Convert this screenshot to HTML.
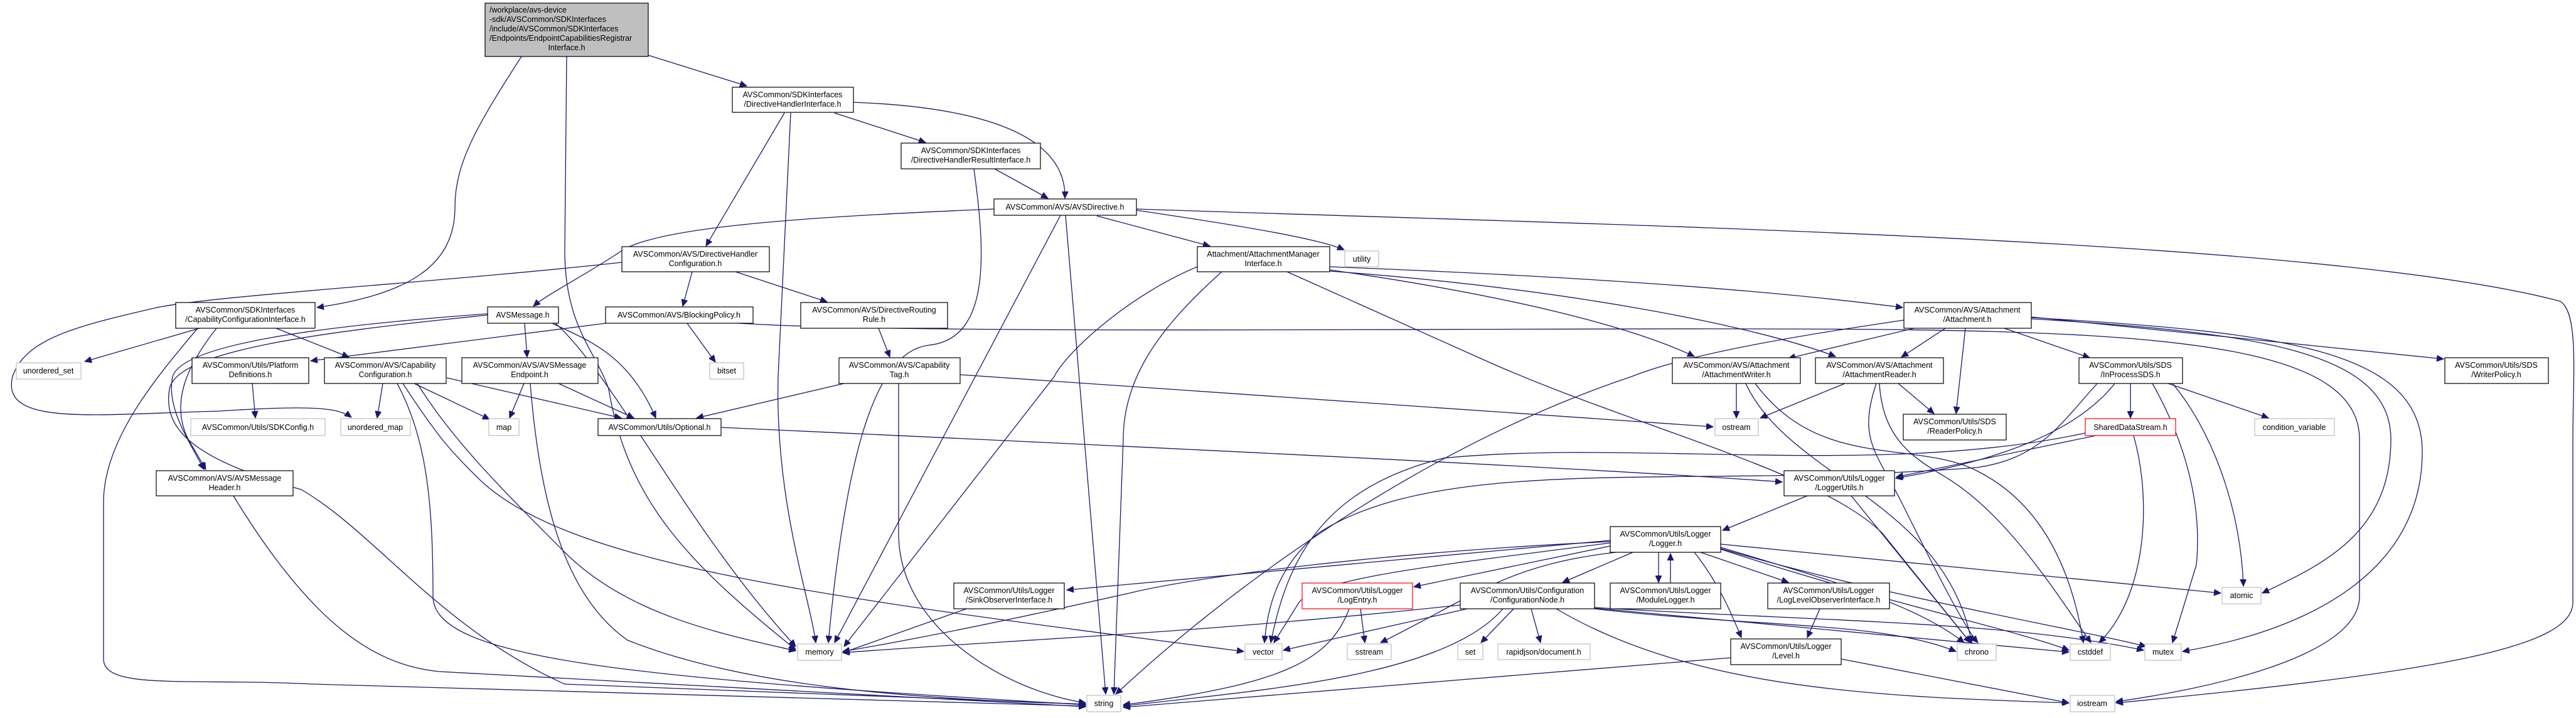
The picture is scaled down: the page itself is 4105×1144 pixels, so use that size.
<!DOCTYPE html>
<html><head><meta charset="utf-8"><style>
html,body{margin:0;padding:0;background:#fff}
svg text{font-family:"Liberation Sans",sans-serif;font-size:12.5px;fill:#000}
.e{fill:none;stroke:#191970;stroke-width:1.3;marker-end:url(#a)}
.n{fill:#fff;stroke:#000;stroke-width:1.2}
.g{fill:#fff;stroke:#bfbfbf;stroke-width:1.2}
.r{fill:#fff;stroke:#ff0000;stroke-width:1.2}
</style></head><body>
<svg width="4105" height="1139" viewBox="0 0 4105 1139" xmlns="http://www.w3.org/2000/svg">
<defs><marker id="a" markerUnits="userSpaceOnUse" markerWidth="12" markerHeight="10" refX="11" refY="5" orient="auto"><path d="M0,0 L11,5 L0,10 z" fill="#191970" stroke="#191970"/></marker></defs>
<g>
<path class="e" d="M831,90 C760,200 725,260 725,330 C725,430 640,470 505,490"/>
<path class="e" d="M903,90 L900,400 C900,520 950,560 970,620 C1000,800 1100,900 1268,1035"/>
<path class="e" d="M1033,88 L1190,137"/>
<path class="e" d="M1250,180 L1125,392"/>
<path class="e" d="M1330,180 L1475,227"/>
<path class="e" d="M1360,163 C1550,170 1700,210 1697,316"/>
<path class="e" d="M1260,180 L1240,600 C1235,800 1290,950 1300,1024"/>
<path class="e" d="M1585,269 L1670,316"/>
<path class="e" d="M1552,269 C1570,400 1580,540 1480,550 C1400,560 1350,700 1320,1024"/>
<path class="e" d="M1584,333 C1300,345 1050,360 990,400 C930,440 870,470 850,488"/>
<path class="e" d="M1748,344 L1928,392"/>
<path class="e" d="M1811,335 C1980,360 2100,380 2142,398"/>
<path class="e" d="M1811,333 C2600,360 3700,380 4080,480 C4110,500 4100,600 4100,700 L4100,960 C4100,1030 3900,1070 3372,1120"/>
<path class="e" d="M1690,343 L1330,1024"/>
<path class="e" d="M1698,343 L1762,1106"/>
<path class="e" d="M991,418 C700,450 350,470 250,490 C120,520 40,540 20,600 C0,680 150,660 350,655 C500,645 540,650 560,665"/>
<path class="e" d="M1103,433 L1088,488"/>
<path class="e" d="M1172,433 L1318,481"/>
<path class="e" d="M318,523 L135,576"/>
<path class="e" d="M440,523 L556,569"/>
<path class="e" d="M345,523 C300,580 270,640 300,700 L328,748"/>
<path class="e" d="M315,523 C250,600 165,700 165,800 L165,1050 C165,1100 300,1080 500,1090 L1730,1125"/>
<path class="e" d="M777,500 C500,520 290,550 275,600 C265,650 300,700 325,748"/>
<path class="e" d="M777,502 C500,530 280,560 270,620 C260,680 300,730 480,780 C600,850 700,1000 900,1090 L1730,1122"/>
<path class="e" d="M836,515 L840,569"/>
<path class="e" d="M880,515 C930,540 1000,560 1045,666"/>
<path class="e" d="M885,515 C980,600 1100,850 1268,1030"/>
<path class="e" d="M1095,515 L1140,577"/>
<path class="e" d="M966,515 L495,575"/>
<path class="e" d="M1176,515 C1500,535 2500,520 3000,525 C3500,530 3760,560 3760,700 L3760,950 C3760,1050 3500,1100 3372,1118"/>
<path class="e" d="M3237,508 C3600,530 3810,560 3810,700 C3810,850 3700,900 3605,945"/>
<path class="e" d="M3237,506 C3650,530 3860,560 3860,720 C3860,900 3700,1000 3478,1038"/>
<path class="e" d="M3237,505 L3894,572"/>
<path class="e" d="M1400,523 L1418,569"/>
<path class="e" d="M1345,611 L1110,666"/>
<path class="e" d="M1432,611 L1432,850 C1432,1000 1600,1100 1730,1120"/>
<path class="e" d="M1530,597 L2730,680"/>
<path class="e" d="M402,611 L407,666"/>
<path class="e" d="M610,611 L601,666"/>
<path class="e" d="M660,611 L780,668"/>
<path class="e" d="M712,602 L990,666"/>
<path class="e" d="M633,611 C680,700 690,800 690,950 C690,1050 1000,1080 1730,1123"/>
<path class="e" d="M642,611 C700,700 720,720 760,760 C900,900 1300,950 1982,1038"/>
<path class="e" d="M665,611 C720,700 800,780 900,880 C1000,980 1150,1010 1268,1037"/>
<path class="e" d="M835,611 L812,666"/>
<path class="e" d="M890,611 L1010,666"/>
<path class="e" d="M845,611 C860,800 900,950 1000,1020 C1200,1100 1500,1115 1730,1122"/>
<path class="e" d="M1149,681 C2000,720 2600,750 2840,768"/>
<path class="e" d="M372,790 C500,1000 600,1060 700,1070 L1730,1126"/>
<path class="e" d="M2119,425 C2500,440 2800,460 3032,490"/>
<path class="e" d="M2119,430 C2400,470 2600,520 2700,568"/>
<path class="e" d="M2119,432 C2500,460 2800,520 2925,568"/>
<path class="e" d="M1908,425 C1800,470 1700,560 1680,600 L1345,1030"/>
<path class="e" d="M1947,433 C1850,520 1790,600 1790,700 L1775,1106"/>
<path class="e" d="M2051,433 L2357,570 C2600,680 2900,750 3000,850 C3080,950 3120,1000 3140,1024"/>
<path class="e" d="M3050,523 L2850,571"/>
<path class="e" d="M3100,523 L3030,569"/>
<path class="e" d="M3194,523 L3330,570"/>
<path class="e" d="M3132,523 L3117,659"/>
<path class="e" d="M3034,510 C2900,530 2700,560 2600,600 C2300,700 2000,900 1778,1106"/>
<path class="e" d="M2767,611 L2767,666"/>
<path class="e" d="M2782,611 C2850,760 3100,800 3142,1024"/>
<path class="e" d="M2797,611 C2900,750 3050,700 3150,750 C3250,800 3300,900 3320,1024"/>
<path class="e" d="M2940,611 L2805,666"/>
<path class="e" d="M3025,611 L3082,659"/>
<path class="e" d="M2990,611 C2960,700 2990,720 3030,800 C3080,900 3130,1000 3152,1024"/>
<path class="e" d="M2995,611 C3000,700 3050,730 3100,760 C3200,820 3280,950 3332,1024"/>
<path class="e" d="M3395,611 L3395,666"/>
<path class="e" d="M3455,611 L3615,666"/>
<path class="e" d="M3462,611 C3520,680 3570,800 3575,934"/>
<path class="e" d="M3430,611 C3480,700 3510,800 3500,900 L3462,1024"/>
<path class="e" d="M3342,611 C3280,680 3250,730 3150,745 C2700,780 2300,720 2100,850 C2040,900 2020,960 2015,1024"/>
<path class="e" d="M3370,611 C3300,700 3150,740 3021,762"/>
<path class="e" d="M3400,694 C3430,800 3420,950 3345,1024"/>
<path class="e" d="M3340,694 L3022,760"/>
<path class="e" d="M3323,690 C3000,760 2600,700 2300,730 C2100,780 2050,900 2025,1024"/>
<path class="e" d="M2880,790 L2745,845"/>
<path class="e" d="M2950,790 L3140,1024"/>
<path class="e" d="M2566,861 L1700,940"/>
<path class="e" d="M2566,870 L2253,935"/>
<path class="e" d="M2602,880 L2490,928"/>
<path class="e" d="M2643,880 L2643,928"/>
<path class="e" d="M2662,929 L2662,882"/>
<path class="e" d="M2710,880 L2850,928"/>
<path class="e" d="M2700,880 C2740,930 2760,980 2775,1016"/>
<path class="e" d="M2742,867 L3539,945"/>
<path class="e" d="M2742,872 C2900,920 3050,960 3130,1024"/>
<path class="e" d="M2742,874 C3000,950 3300,1000 3420,1030"/>
<path class="e" d="M2742,875 C3000,960 3200,1000 3297,1036"/>
<path class="e" d="M2566,865 C2300,900 2100,920 2070,960 L2030,1024"/>
<path class="e" d="M2575,880 C2400,900 2350,950 2200,1024"/>
<path class="e" d="M2566,863 C2200,880 1900,920 1800,945 C1600,990 1450,1020 1343,1038"/>
<path class="e" d="M2150,970 C2120,1050 2050,1090 1790,1123"/>
<path class="e" d="M2168,970 L2175,1024"/>
<path class="e" d="M2338,970 L2045,1036"/>
<path class="e" d="M2412,970 L2360,1024"/>
<path class="e" d="M2440,970 L2455,1024"/>
<path class="e" d="M2395,970 C2300,1080 2000,1100 1790,1125"/>
<path class="e" d="M2327,964 C1900,1010 1600,1020 1343,1040"/>
<path class="e" d="M2541,970 C2800,1000 3000,990 3117,1038"/>
<path class="e" d="M2541,968 C2900,990 3200,990 3416,1036"/>
<path class="e" d="M2541,969 L3297,1039"/>
<path class="e" d="M2480,970 C2700,1100 3000,1110 3297,1120"/>
<path class="e" d="M1540,970 L1343,1040"/>
<path class="e" d="M2900,970 L2880,1016"/>
<path class="e" d="M2758,1048 L1790,1127"/>
<path class="e" d="M2934,1050 L3297,1120"/>
</g>
<g>
<rect x="773" y="5" width="260" height="85" fill="#bfbfbf" stroke="#000" stroke-width="1.2"/>
<text x="780" y="20">/workplace/avs-device</text>
<text x="780" y="35">-sdk/AVSCommon/SDKInterfaces</text>
<text x="780" y="50">/include/AVSCommon/SDKInterfaces</text>
<text x="780" y="65">/Endpoints/EndpointCapabilitiesRegistrar</text>
<text x="903" y="80" text-anchor="middle">Interface.h</text>
</g>
<g text-anchor="middle">
<rect class="n" x="1167" y="139" width="193" height="40"/><text x="1263" y="155">AVSCommon/SDKInterfaces</text><text x="1263" y="170">/DirectiveHandlerInterface.h</text>
<rect class="n" x="1436" y="228" width="222" height="41"/><text x="1547" y="244">AVSCommon/SDKInterfaces</text><text x="1547" y="259">/DirectiveHandlerResultInterface.h</text>
<rect class="n" x="1584" y="317" width="227" height="26"/><text x="1697" y="334">AVSCommon/AVS/AVSDirective.h</text>
<rect class="n" x="991" y="393" width="235" height="40"/><text x="1108" y="409">AVSCommon/AVS/DirectiveHandler</text><text x="1108" y="424">Configuration.h</text>
<rect class="n" x="1908" y="393" width="211" height="40"/><text x="2013" y="409">Attachment/AttachmentManager</text><text x="2013" y="424">Interface.h</text>
<rect class="g" x="2143" y="400" width="54" height="25"/><text x="2170" y="417">utility</text>
<rect class="n" x="280" y="482" width="222" height="41"/><text x="391" y="498">AVSCommon/SDKInterfaces</text><text x="391" y="513">/CapabilityConfigurationInterface.h</text>
<rect class="n" x="777" y="489" width="113" height="26"/><text x="833" y="506">AVSMessage.h</text>
<rect class="n" x="965" y="489" width="235" height="26"/><text x="1082" y="506">AVSCommon/AVS/BlockingPolicy.h</text>
<rect class="n" x="1276" y="482" width="234" height="41"/><text x="1393" y="498">AVSCommon/AVS/DirectiveRouting</text><text x="1393" y="513">Rule.h</text>
<rect class="n" x="3034" y="482" width="203" height="41"/><text x="3135" y="498">AVSCommon/AVS/Attachment</text><text x="3135" y="513">/Attachment.h</text>
<rect class="g" x="26" y="578" width="103" height="26"/><text x="77" y="595">unordered_set</text>
<rect class="n" x="306" y="570" width="186" height="41"/><text x="399" y="586">AVSCommon/Utils/Platform</text><text x="399" y="601">Definitions.h</text>
<rect class="n" x="517" y="570" width="194" height="41"/><text x="614" y="586">AVSCommon/AVS/Capability</text><text x="614" y="601">Configuration.h</text>
<rect class="n" x="736" y="570" width="217" height="41"/><text x="844" y="586">AVSCommon/AVS/AVSMessage</text><text x="844" y="601">Endpoint.h</text>
<rect class="g" x="1131" y="578" width="54" height="26"/><text x="1158" y="595">bitset</text>
<rect class="n" x="1337" y="570" width="193" height="41"/><text x="1433" y="586">AVSCommon/AVS/Capability</text><text x="1433" y="601">Tag.h</text>
<rect class="n" x="2665" y="570" width="204" height="41"/><text x="2767" y="586">AVSCommon/AVS/Attachment</text><text x="2767" y="601">/AttachmentWriter.h</text>
<rect class="n" x="2893" y="570" width="204" height="41"/><text x="2995" y="586">AVSCommon/AVS/Attachment</text><text x="2995" y="601">/AttachmentReader.h</text>
<rect class="n" x="3313" y="570" width="165" height="41"/><text x="3395" y="586">AVSCommon/Utils/SDS</text><text x="3395" y="601">/InProcessSDS.h</text>
<rect class="n" x="3896" y="570" width="165" height="41"/><text x="3978" y="586">AVSCommon/Utils/SDS</text><text x="3978" y="601">/WriterPolicy.h</text>
<rect class="g" x="304" y="667" width="214" height="27"/><text x="411" y="685">AVSCommon/Utils/SDKConfig.h</text>
<rect class="g" x="543" y="667" width="111" height="27"/><text x="598" y="685">unordered_map</text>
<rect class="g" x="779" y="667" width="48" height="27"/><text x="803" y="685">map</text>
<rect class="n" x="953" y="667" width="196" height="27"/><text x="1051" y="685">AVSCommon/Utils/Optional.h</text>
<rect class="g" x="2733" y="667" width="69" height="27"/><text x="2767" y="685">ostream</text>
<rect class="n" x="3033" y="660" width="164" height="41"/><text x="3115" y="676">AVSCommon/Utils/SDS</text><text x="3115" y="691">/ReaderPolicy.h</text>
<rect class="r" x="3323" y="667" width="144" height="27"/><text x="3395" y="685">SharedDataStream.h</text>
<rect class="g" x="3593" y="667" width="127" height="27"/><text x="3656" y="685">condition_variable</text>
<rect class="n" x="249" y="750" width="218" height="40"/><text x="358" y="766">AVSCommon/AVS/AVSMessage</text><text x="358" y="781">Header.h</text>
<rect class="n" x="2843" y="750" width="176" height="40"/><text x="2931" y="766">AVSCommon/Utils/Logger</text><text x="2931" y="781">/LoggerUtils.h</text>
<rect class="n" x="2566" y="839" width="176" height="41"/><text x="2654" y="855">AVSCommon/Utils/Logger</text><text x="2654" y="870">/Logger.h</text>
<rect class="n" x="1520" y="929" width="176" height="41"/><text x="1608" y="945">AVSCommon/Utils/Logger</text><text x="1608" y="960">/SinkObserverInterface.h</text>
<rect class="r" x="2075" y="929" width="176" height="41"/><text x="2163" y="945">AVSCommon/Utils/Logger</text><text x="2163" y="960">/LogEntry.h</text>
<rect class="n" x="2327" y="929" width="214" height="41"/><text x="2434" y="945">AVSCommon/Utils/Configuration</text><text x="2434" y="960">/ConfigurationNode.h</text>
<rect class="n" x="2566" y="929" width="176" height="41"/><text x="2654" y="945">AVSCommon/Utils/Logger</text><text x="2654" y="960">/ModuleLogger.h</text>
<rect class="n" x="2817" y="929" width="194" height="41"/><text x="2914" y="945">AVSCommon/Utils/Logger</text><text x="2914" y="960">/LogLevelObserverInterface.h</text>
<rect class="g" x="3541" y="936" width="62" height="26"/><text x="3572" y="953">atomic</text>
<rect class="n" x="2758" y="1018" width="176" height="41"/><text x="2846" y="1034">AVSCommon/Utils/Logger</text><text x="2846" y="1049">/Level.h</text>
<rect class="g" x="1271" y="1026" width="70" height="26"/><text x="1306" y="1043">memory</text>
<rect class="g" x="1984" y="1026" width="59" height="25"/><text x="2013" y="1043">vector</text>
<rect class="g" x="2147" y="1026" width="70" height="25"/><text x="2182" y="1043">sstream</text>
<rect class="g" x="2323" y="1026" width="40" height="25"/><text x="2343" y="1043">set</text>
<rect class="g" x="2387" y="1026" width="147" height="25"/><text x="2460" y="1043">rapidjson/document.h</text>
<rect class="g" x="3119" y="1026" width="62" height="26"/><text x="3150" y="1043">chrono</text>
<rect class="g" x="3299" y="1026" width="64" height="26"/><text x="3331" y="1043">cstddef</text>
<rect class="g" x="3418" y="1026" width="58" height="26"/><text x="3447" y="1043">mutex</text>
<rect class="g" x="1732" y="1108" width="54" height="26"/><text x="1759" y="1125">string</text>
<rect class="g" x="3299" y="1108" width="71" height="26"/><text x="3334" y="1125">iostream</text>
</g>
</svg>
</body></html>
